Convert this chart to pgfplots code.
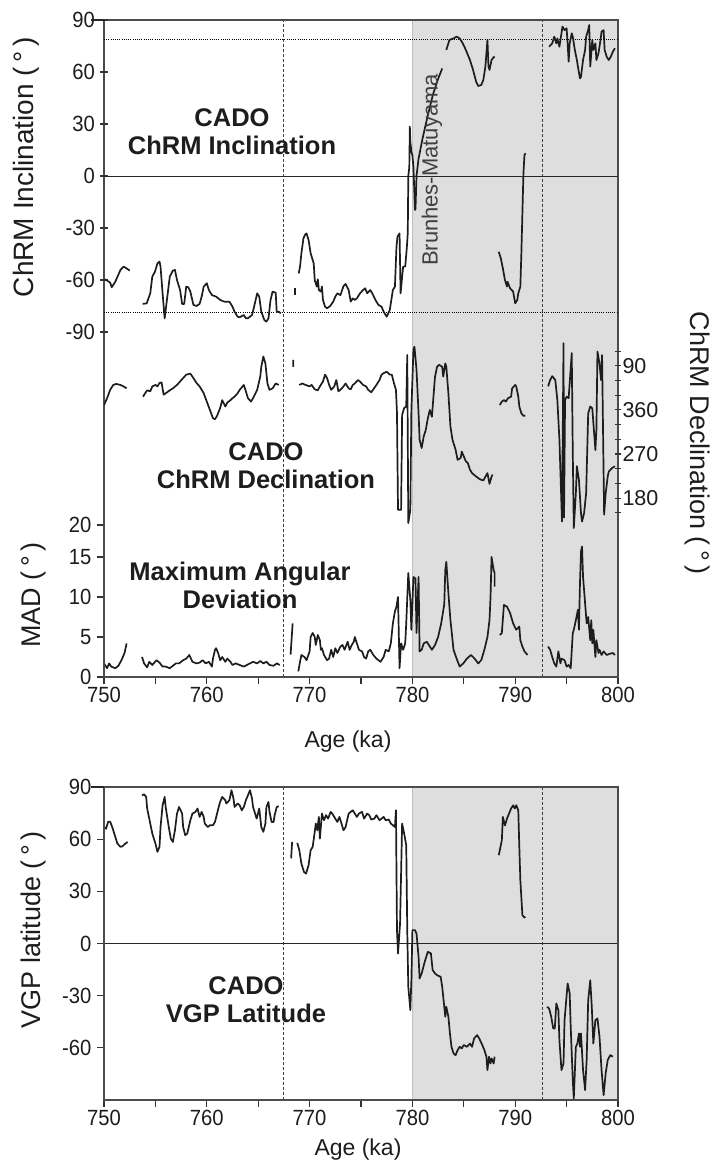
\documentclass[border=0pt]{standalone}
\usepackage{fontspec}
\setmainfont{Liberation Sans}
\newfontfamily\tickfont{Liberation Sans}[FakeStretch=0.92]
\usepackage{pgfplots}
\pgfplotsset{compat=1.18}
\definecolor{bandgray}{RGB}{222,222,222}
\definecolor{ink}{RGB}{30,28,28}
\tikzset{
  vdash/.style={black!75, line width=1pt, dash pattern=on 2.6pt off 2.4pt},
  hdot/.style={black, line width=0.7pt, dash pattern=on 0.9pt off 1.3pt},
  zline/.style={black!85, line width=0.9pt},
}
\pgfplotsset{
  base/.style={scale only axis, width=514pt, anchor=south west, xmin=750, xmax=800,
    tick align=outside, major tick length=7pt,
    tick style={black!80, line width=1.1pt},
    /pgf/number format/assume math mode=true,
    tick label style={font=\tickfont\fontsize{22}{22}\selectfont, text=ink},
    yticklabel style={xshift=-2pt},
  },
  data/.style={ink, line width=1.7pt, mark=none, line join=round},
}
\begin{document}
\begin{tikzpicture}[x=1pt,y=1pt]
\path[use as bounding box] (0,0) rectangle (713,1167);

% ---------- top frame + MAD axis ----------
\begin{axis}[base, at={(104pt,490pt)}, height=657pt, ymin=0, ymax=82.125,
  axis on top, axis line style={black!70, line width=1.4pt},
  xtick={750,755,...,800}, xticklabels={750,,760,,770,,780,,790,,800},
  xtick pos=bottom, ytick pos=left,
  ytick={0,5,10,15,19}, yticklabels={0,5,10,15,20}]
 \fill[bandgray] (axis cs:780,0) rectangle (axis cs:800,82.125);
 \draw[black!25, line width=0.8pt] (axis cs:780,0) -- (axis cs:780,82.125);
 \draw[vdash] (axis cs:767.5,0) -- (axis cs:767.5,82.125);
 \draw[vdash] (axis cs:792.7,0) -- (axis cs:792.7,82.125);
 % MAD
 \addplot[data] coordinates {(750.0,1.7)(750.3,1.1)(750.5,1.7)(750.7,1.3)(751.1,1.1)(751.4,1.4)(751.7,2.1)(752.0,3.0)(752.2,4.2)};
 \addplot[data] coordinates {(753.7,2.5)(753.9,1.7)(754.2,1.2)(754.4,1.9)(754.7,1.5)(755.1,2.1)(755.4,1.8)(755.7,1.3)(756.0,1.3)(756.4,1.1)(756.7,1.4)(757.0,1.7)(757.3,1.7)(757.7,2.1)(758.0,2.3)(758.3,2.75)(758.6,1.9)(759.0,1.7)(759.3,1.8)(759.6,2.1)(759.9,1.7)(760.2,1.9)(760.5,1.3)(760.6,2.3)(760.8,3.4)(760.9,3.6)(761.1,3.0)(761.3,2.1)(761.5,2.5)(761.8,1.9)(762.0,2.3)(762.3,1.9)(762.5,1.5)(762.8,1.7)(763.2,1.5)(763.6,1.3)(763.9,1.5)(764.2,1.7)(764.5,1.9)(764.9,1.7)(765.2,2.0)(765.5,1.7)(765.8,1.9)(766.1,1.5)(766.5,1.4)(766.8,1.7)(767.1,1.5)};
 \addplot[data] coordinates {(768.15,2.8)(768.35,6.7)};
 \addplot[data] coordinates {(768.9,0.7)(769.1,2.1)(769.2,2.75)(769.5,2.5)(769.7,2.1)(770.0,3.2)(770.1,5.0)(770.3,5.5)(770.5,5.0)(770.6,4.0)(770.8,5.25)(771.0,4.6)(771.1,3.4)(771.2,3.6)(771.4,2.75)(771.7,2.1)(771.9,2.3)(772.1,3.4)(772.3,2.5)(772.5,3.6)(772.7,3.0)(773.0,3.8)(773.2,4.0)(773.4,3.4)(773.7,4.4)(773.9,3.4)(774.1,4.0)(774.3,4.4)(774.4,5.0)(774.6,4.2)(774.8,3.4)(775.1,3.2)(775.3,2.5)(775.5,2.3)(775.7,3.2)(775.9,3.4)(776.2,2.75)(776.5,2.3)(776.7,2.1)(776.9,1.9)(777.2,2.5)(777.4,3.4)(777.7,3.2)(777.9,4.2)(778.1,6.7)(778.3,8.2)(778.45,8.8)(778.6,10.0)(778.75,1.1)(778.9,4.2)(779.1,3.4)(779.3,4.2)(779.4,6.7)(779.6,13.0)(779.8,9.6)(779.9,5.9)(780.1,12.5)(780.3,12.3)(780.4,5.5)(780.6,12.5)(780.7,3.2)(780.9,3.4)(781.1,4.2)(781.4,4.4)(781.7,3.8)(781.9,3.4)(782.2,4.0)(782.5,5.0)(782.8,6.7)(783.1,9.1)(783.2,13.4)(783.3,14.4)(783.5,10.5)(783.7,7.1)(783.8,5.9)(784.0,3.4)(784.3,2.3)(784.6,1.3)(784.95,1.7)(785.3,2.3)(785.7,2.75)(786.05,2.3)(786.4,1.7)(786.7,2.1)(787.0,3.4)(787.3,5.0)(787.5,7.1)(787.6,10.0)(787.7,15.0)(787.9,13.4)(788.0,13.0)(788.0,11.3)};
 \addplot[data] coordinates {(788.5,5.25)(788.7,5.5)(788.9,9.0)(789.2,8.8)(789.5,8.0)(789.8,6.7)(790.1,5.9)(790.4,6.3)(790.5,4.6)(790.7,3.8)(790.9,3.2)(791.2,2.75)};
 \addplot[data] coordinates {(793.2,3.8)(793.4,3.4)(793.6,2.5)(793.8,1.7)(794.0,1.3)(794.2,3.2)(794.4,1.7)(794.5,2.3)(794.8,2.1)(795.0,1.3)(795.2,1.5)(795.4,1.1)(795.6,5.5)(795.7,5.9)(795.9,7.1)(796.1,8.4)(796.2,5.9)(796.3,11.7)(796.4,15.7)(796.5,16.3)(796.6,12.5)(796.8,9.2)(796.95,6.7)(797.1,7.5)(797.3,4.6)(797.4,7.1)(797.5,4.2)(797.6,5.9)(797.8,2.5)(797.9,4.6)(798.1,3.0)(798.2,3.4)(798.4,2.75)(798.6,3.2)(798.9,2.75)(799.2,2.9)(799.5,3.0)(799.7,2.75)};
\end{axis}

% ---------- inclination axis ----------
\begin{axis}[base, at={(104pt,490pt)}, height=657pt, ymin=-289.04, ymax=90,
  hide x axis, axis y line=left, y axis line style={draw=none},
  ytick={-90,-60,...,90}]
 \draw[zline] (axis cs:750,0) -- (axis cs:800,0);
 \draw[hdot] (axis cs:750,78.9) -- (axis cs:800,78.9);
 \draw[hdot] (axis cs:750,-78.6) -- (axis cs:800,-78.6);
 \addplot[data] coordinates {(750.1,-59.6)(750.6,-61.5)(750.75,-64.2)(751.1,-61)(751.6,-54.2)(751.9,-52.3)(752.2,-53.3)(752.5,-54.6)};
 \addplot[data] coordinates {(753.76,-73.8)(754.15,-73.5)(754.5,-67.7)(754.7,-58)(754.96,-55.2)(755.2,-50.4)(755.4,-49.4)(755.5,-52.3)(755.7,-67.7)(755.9,-82.1)(756.2,-67.7)(756.4,-58)(756.7,-54.6)(756.9,-54.2)(757.1,-60)(757.4,-65.8)(757.6,-73.8)(757.8,-73.8)(758.0,-63.8)(758.2,-64.2)(758.4,-66.7)(758.7,-74.4)(759.0,-75)(759.3,-73.8)(759.5,-69.6)(759.7,-63.8)(760.0,-61.9)(760.2,-65.8)(760.5,-68.7)(760.9,-69.6)(761.3,-71.5)(761.7,-72.5)(762.2,-72.5)(762.5,-75.4)(762.7,-78.3)(763.0,-81.2)(763.2,-81.5)(763.6,-80.2)(763.8,-82.1)(764.0,-82.1)(764.4,-80.2)(764.6,-75.4)(764.9,-67.7)(765.1,-69.6)(765.3,-78.3)(765.6,-83.1)(765.8,-84)(766.0,-82.1)(766.2,-71.5)(766.4,-66.7)(766.7,-67.3)(766.8,-78.3)(767.0,-78.3)(767.2,-79.2)};
 \addplot[data, line width=2.4pt] coordinates {(768.58,-64.8)(768.58,-68.8)};
 \addplot[data] coordinates {(768.94,-56.2)(769.07,-52.3)(769.2,-44.6)(769.4,-36)(769.55,-34)(769.7,-33.1)(769.9,-36.9)(770.1,-44.6)(770.4,-50.4)(770.5,-60)(770.7,-63.8)(770.8,-59.6)(770.9,-65.8)(771.1,-66.7)(771.2,-63.8)(771.3,-71.5)(771.5,-75.4)(771.7,-76.3)(772.0,-75)(772.3,-72.5)(772.5,-69.6)(772.7,-67.7)(773.0,-68.7)(773.3,-63.5)(773.5,-62.3)(773.8,-65.8)(774.0,-72.5)(774.2,-70.6)(774.4,-71.5)(774.6,-70.6)(774.9,-67.7)(775.2,-65.8)(775.4,-64.8)(775.6,-67.7)(775.9,-65.8)(776.1,-67.7)(776.4,-71.5)(776.7,-74.4)(777.0,-75.4)(777.2,-78.3)(777.5,-81.2)(777.8,-77.3)(778.1,-65.8)(778.3,-63.8)(778.45,-40.8)(778.55,-35)(778.75,-33.1)(778.85,-67.7)(779.1,-52.3)(779.3,-52.3)(779.45,-42)(779.55,-33)(779.6,0)(779.7,5)(779.75,28.5)(779.8,20)(779.9,14)(780.0,12)(780.1,5)(780.25,-19.6)(780.3,-19)(780.4,0)(780.6,10)(781.0,22)(781.5,35)(782.0,47)(782.5,56)(782.9,62)};
 \addplot[data] coordinates {(783.3,72.7)(783.6,78.5)(784.0,79.4)(784.3,80.4)(784.6,79.4)(784.9,76.5)(785.2,72.7)(785.6,66.9)(785.9,61.2)(786.2,54.4)(786.4,51.9)(786.7,52.5)(786.9,55.4)(787.1,63.1)(787.3,78.5)(787.4,63.1)(787.5,61.2)(787.7,66.9)(787.9,68.5)(788.0,68.8)};
 \addplot[data] coordinates {(788.4,-43.7)(788.6,-47.5)(788.8,-53.3)(789.0,-60)(789.2,-63.8)(789.25,-61)(789.5,-64.8)(789.8,-66.7)(790.0,-73.5)(790.2,-71.5)(790.3,-67.7)(790.5,-63.8)(790.6,-44.6)(790.7,-21.5)(790.8,1.5)(790.9,12.1)(791.0,13.1)};
 \addplot[data] coordinates {(793.3,74.6)(793.6,76.5)(793.8,80.4)(794.0,76.5)(794.1,79.4)(794.3,74.6)(794.5,82.3)(794.6,86.2)(794.8,84.2)(795.0,85.2)(795.1,76.5)(795.2,66)(795.3,76.5)(795.5,82.3)(795.6,80.4)(795.8,72.7)(796.0,66.9)(796.1,63.1)(796.3,56.3)(796.4,57.3)(796.6,66.9)(796.8,72.7)(796.9,80.4)(797.1,84.2)(797.2,87.1)(797.3,63.1)(797.5,78.5)(797.6,72.7)(797.8,76.5)(797.9,66.9)(798.1,70.8)(798.3,78.5)(798.4,83.3)(798.6,84.2)(798.7,72.7)(798.9,68.8)(799.1,66.9)(799.3,68.8)(799.5,71.7)(799.7,73.7)};
\end{axis}

% ---------- declination axis ----------
\begin{axis}[base, at={(104pt,490pt)}, height=657pt, ymin=-185.3, ymax=1156.1,
  hide x axis, axis y line=right, y axis line style={draw=none},
  major tick length=6pt, minor tick length=6pt,
  ytick={180,270,360,450}, yticklabels={180,270,360,90},
  minor ytick={150,210,240,300,330,390,420,480},
  yticklabel style={xshift=0pt},
  tick label style={font=\fontsize{21.5}{21.5}\selectfont}]
 \addplot[data] coordinates {(750.0,370)(750.3,384)(750.6,401)(750.9,411)(751.2,413)(751.6,411)(751.9,408)(752.2,404)};
 \addplot[data] coordinates {(753.8,387)(754.0,394)(754.2,400)(754.5,398)(754.7,408)(755.0,411)(755.2,408)(755.4,415)(755.6,416)(755.8,391)(756.0,394)(756.4,400)(756.7,404)(757.1,411)(757.4,418)(757.7,425)(758.0,432)(758.4,434)(758.7,425)(759.0,415)(759.3,408)(759.7,394)(760.0,377)(760.3,360)(760.6,343)(760.8,341)(761.0,348)(761.3,364)(761.5,380)(761.8,367)(762.0,375)(762.3,380)(762.5,384)(762.7,387)(763.0,394)(763.2,401)(763.6,411)(763.8,398)(764.0,384)(764.3,377)(764.5,384)(764.9,401)(765.2,428)(765.3,448)(765.5,469)(765.7,455)(765.9,414)(766.1,401)(766.4,404)(766.7,414)(767.0,411)};
 \addplot[data] coordinates {(768.4,462)(768.42,448)};
 \addplot[data] coordinates {(769.0,411)(769.3,414)(769.6,411)(770.0,408)(770.2,411)(770.5,402)(770.8,400)(771.0,408)(771.3,418)(771.5,432)(771.7,425)(771.9,411)(772.1,401)(772.4,408)(772.6,421)(772.8,398)(773.0,401)(773.3,408)(773.5,414)(773.8,404)(774.0,402)(774.2,411)(774.4,414)(774.7,421)(774.9,418)(775.2,411)(775.5,408)(775.7,401)(776.0,396)(776.2,402)(776.5,411)(776.8,421)(777.0,432)(777.2,435)(777.5,438)(777.8,432)(778.0,432)(778.2,415)(778.4,401)(778.5,353)(778.6,156)(778.9,156)(779.0,350)(779.2,364)(779.4,367)(779.5,472)(779.6,129)(779.8,156)(779.9,360)(780.1,483)(780.2,489)(780.4,442)(780.6,353)(780.7,299)(780.9,282)(781.1,306)(781.3,319)(781.5,343)(781.7,360)(781.9,346)(782.0,374)(782.2,428)(782.4,448)(782.6,452)(782.9,448)(783.0,428)(783.2,455)(783.3,448)(783.5,394)(783.7,326)(783.9,299)(784.2,279)(784.4,258)(784.7,262)(784.8,275)(785.0,265)(785.2,255)(785.4,251)(785.6,238)(785.8,231)(786.2,224)(786.6,218)(786.9,216)(787.3,231)(787.5,209)(787.7,224)(787.8,228)};
 \addplot[data] coordinates {(788.5,370)(788.7,377)(788.9,380)(789.1,377)(789.3,384)(789.6,387)(789.7,404)(790.0,411)(790.1,408)(790.3,387)(790.4,367)(790.6,353)(790.8,348)(791.0,348)};
 \addplot[data] coordinates {(793.2,408)(793.4,421)(793.6,429)(793.9,421)(794.1,380)(794.3,300)(794.55,132)(794.7,496)(794.75,140)(794.85,380)(795.0,387)(795.2,384)(795.5,476)(795.6,272)(795.7,119)(795.9,190)(796.0,245)(796.2,217)(796.4,149)(796.5,132)(796.7,149)(796.9,190)(797.1,353)(797.3,367)(797.5,363)(797.8,278)(797.9,319)(798.0,479)(798.2,455)(798.35,421)(798.45,472)(798.65,146)(798.8,190)(799.0,224)(799.1,234)(799.4,241)(799.7,245)};
\end{axis}

% ---------- VGP axis ----------
\begin{axis}[base, at={(104pt,67pt)}, height=313pt, ymin=-90, ymax=90,
  axis on top, axis line style={black!70, line width=1.4pt},
  xtick={750,755,...,800}, xticklabels={750,,760,,770,,780,,790,,800},
  xtick pos=bottom, ytick pos=left, ytick={-60,-30,...,90}]
 \fill[bandgray] (axis cs:780,-90) rectangle (axis cs:800,90);
 \draw[black!25, line width=0.8pt] (axis cs:780,-90) -- (axis cs:780,90);
 \draw[vdash] (axis cs:767.5,-90) -- (axis cs:767.5,90);
 \draw[vdash] (axis cs:792.7,-90) -- (axis cs:792.7,90);
 \draw[zline] (axis cs:750,0) -- (axis cs:800,0);
 \addplot[data] coordinates {(750.0,67)(750.2,66)(750.4,70)(750.6,70)(750.8,67)(751.1,61.3)(751.3,57.5)(751.6,55.6)(751.8,55.9)(752.0,57.1)(752.3,58.4)};
 \addplot[data] coordinates {(753.7,85.2)(753.9,85.8)(754.1,84.3)(754.2,77.6)(754.5,69)(754.7,63.2)(755.0,57.5)(755.2,52.7)(755.4,55.6)(755.5,67)(755.7,79.5)(755.9,84.3)(756.0,78.5)(756.3,67)(756.5,60.3)(756.7,58.4)(756.9,65.1)(757.1,74.7)(757.3,78.5)(757.6,74.7)(757.7,67)(757.9,62.3)(758.1,63.2)(758.4,70.9)(758.6,74.7)(758.9,75.7)(759.1,77.6)(759.3,72.8)(759.5,75.7)(759.7,72.8)(759.8,69)(760.1,67)(760.3,68)(760.6,68)(760.8,70)(761.0,74.7)(761.2,79.5)(761.3,81.4)(761.5,84.3)(761.8,82.4)(761.9,80.5)(762.2,82.4)(762.4,88.1)(762.6,83.3)(762.7,78.5)(763.0,80.5)(763.2,79.5)(763.4,76.6)(763.6,78.5)(763.8,82.4)(764.0,85.2)(764.2,88.1)(764.4,83.3)(764.5,78.5)(764.7,74.7)(764.85,71.8)(765.1,77.6)(765.3,67)(765.5,64.2)(765.7,69)(765.8,78.5)(766.0,81.4)(766.1,75.7)(766.3,69.9)(766.5,69.9)(766.6,73.8)(766.8,78.5)(767.0,78.9)};
 \addplot[data] coordinates {(768.2,48.9)(768.3,58.4)};
 \addplot[data] coordinates {(768.8,57.9)(769.0,53.6)(769.2,46)(769.45,41.2)(769.65,40.2)(769.9,45)(770.1,53.6)(770.3,55.6)(770.5,64.2)(770.6,69)(770.75,65.1)(770.9,72.8)(771.0,60.3)(771.2,74.7)(771.4,70.9)(771.6,73.8)(771.8,71.8)(772.05,75.7)(772.2,74.7)(772.5,71.8)(772.7,69.9)(772.9,72.8)(773.1,69)(773.3,65.1)(773.5,67)(773.8,74.7)(774.0,75.7)(774.2,76.6)(774.4,74.7)(774.6,72.8)(774.8,74.7)(775.1,75.7)(775.3,71.8)(775.6,74.7)(775.8,73.8)(776.0,71.3)(776.3,71.8)(776.5,73.8)(776.8,70.9)(777.0,71.8)(777.2,72.8)(777.4,70.9)(777.7,71.3)(777.9,69)(778.1,68)(778.3,67)(778.4,76.6)(778.5,7.7)(778.6,-5.7)(778.8,11.5)(779.0,69)(779.2,63.2)(779.4,56.5)(779.5,7.7)(779.6,-24.9)(779.8,-38.3)(779.9,-21)(780.0,7.7)(780.25,7.7)(780.4,5.7)(780.6,-7.7)(780.7,-20.1)(780.9,-17.2)(781.2,-10.5)(781.5,-4.8)(781.8,-5.7)(781.97,-15.3)(782.2,-17.2)(782.4,-18.2)(782.75,-19.2)(782.9,-24.9)(783.1,-36.4)(783.2,-42.1)(783.3,-36.4)(783.5,-42.1)(783.65,-51.7)(783.8,-59.4)(784.0,-63.2)(784.2,-64.2)(784.4,-61.3)(784.6,-59.4)(784.8,-60.3)(785.0,-58.4)(785.3,-59.4)(785.6,-57.5)(785.8,-59.4)(786.0,-54.6)(786.3,-52.7)(786.5,-54.6)(786.8,-58.4)(787.0,-61.3)(787.2,-65.1)(787.3,-72.8)(787.45,-65.1)(787.6,-69)(787.7,-66.1)(787.9,-69)(788.0,-65.1)};
 \addplot[data] coordinates {(788.4,50.8)(788.5,53.6)(788.7,59.4)(788.8,72.8)(789.0,67.9)(789.2,71.8)(789.4,74.7)(789.6,77.6)(789.8,79.5)(789.96,77.6)(790.1,79.5)(790.3,76.6)(790.4,55.6)(790.5,36.4)(790.7,16.3)(790.9,14.9)(791.0,15.3)};
 \addplot[data] coordinates {(793.1,-36.4)(793.3,-37.4)(793.5,-42.1)(793.7,-48.9)(793.85,-48.9)(794.0,-34.5)(794.2,-38.3)(794.3,-55.6)(794.5,-72.8)(794.7,-69)(794.8,-44.1)(795.1,-23)(795.3,-28.7)(795.4,-47.9)(795.6,-78.5)(795.7,-89.1)(795.9,-59.4)(796.05,-57.5)(796.2,-51.7)(796.3,-59.4)(796.4,-51.7)(796.6,-72.8)(796.8,-84.3)(796.95,-67)(797.1,-32.6)(797.3,-21.1)(797.45,-36.4)(797.6,-57.5)(797.8,-44.1)(798.0,-43.1)(798.2,-53.6)(798.4,-72.8)(798.6,-87.2)(798.8,-74.7)(799.0,-67)(799.25,-64.2)(799.5,-65.1)};
\end{axis}

% corner ticks (longer 90 ticks)
\draw[black!85, line width=1.6pt] (91,1147) -- (104,1147);
\draw[black!85, line width=1.6pt] (91,380) -- (104,380);

% ---------- labels ----------
\begin{scope}[text=ink]
\node[rotate=90, font=\fontsize{28}{28}\selectfont] at (26,1000) {ChRM Inclination (\,°\,)};
\node[rotate=90, font=\fontsize{27}{27}\selectfont] at (34,572) {MAD (\,°\,)};
\node[rotate=90, font=\fontsize{27}{27}\selectfont] at (34,237) {VGP latitude (\,°\,)};
\node[rotate=-90, font=\fontsize{27}{27}\selectfont] at (697,724) {ChRM Declination (\,°\,)};
\node[font=\fontsize{23}{23}\selectfont] at (348,425) {Age (ka)};
\node[font=\fontsize{23}{23}\selectfont] at (358,17) {Age (ka)};
\node[rotate=90, font=\fontsize{22}{22}\selectfont, text=black!75] at (432,997) {Brunhes-Matuyama};
\node[align=center, font=\bfseries\fontsize{25.5}{28}\selectfont] at (232,1035) {CADO\\ChRM Inclination};
\node[align=center, font=\bfseries\fontsize{25.5}{28}\selectfont] at (266,701) {CADO\\ChRM Declination};
\node[align=center, font=\bfseries\fontsize{25.5}{28}\selectfont] at (240,582) {Maximum Angular\\Deviation};
\node[align=center, font=\bfseries\fontsize{25.5}{28}\selectfont] at (246,167) {CADO\\VGP Latitude};
\end{scope}
\end{tikzpicture}
\end{document}
